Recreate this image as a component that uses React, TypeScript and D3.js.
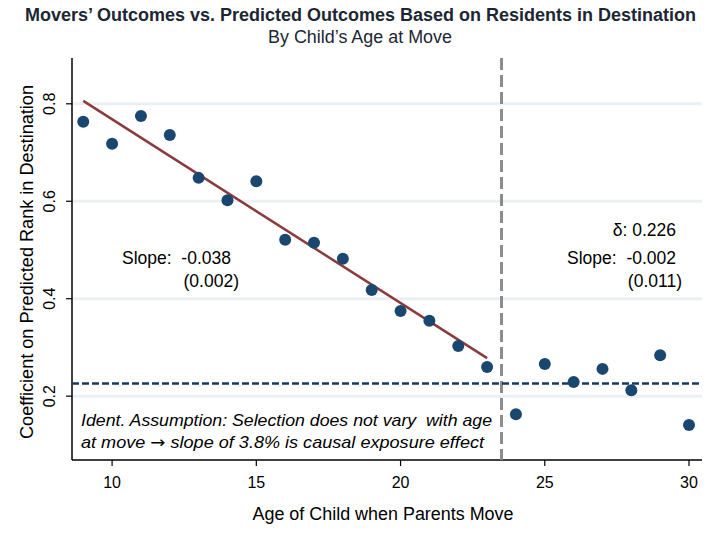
import React from 'react';
import * as d3 from 'd3';

const ages = [9, 10, 11, 12, 13, 14, 15, 16, 17, 18, 19, 20, 21, 22, 23, 24, 25, 26, 27, 28, 29, 30];
const coefs = [0.763, 0.718, 0.775, 0.736, 0.648, 0.602, 0.641, 0.521, 0.515, 0.482, 0.418, 0.375, 0.355, 0.303, 0.26, 0.163, 0.266, 0.229, 0.256, 0.212, 0.284, 0.141];
const fitEnds = [
  { age: 9, value: 0.806 },
  { age: 23, value: 0.278 },
];
const delta = 0.226;
const cutoff = 23.5;
const xTicks = [10, 15, 20, 25, 30];
const yTicks = [0.2, 0.4, 0.6, 0.8];

const W = 720;
const H = 540;
const margin = { top: 58, right: 18, bottom: 80, left: 72 };
const font = '"Liberation Sans", Arial, sans-serif';
const nb = '\u00a0';

const App = () => {
  const x = d3.scaleLinear().domain([8.61, 30.45]).range([margin.left, W - margin.right]);
  const y = d3.scaleLinear().domain([0.069, 0.894]).range([H - margin.bottom, margin.top]);
  const line = d3
    .line<{ age: number; value: number }>()
    .x((d) => x(d.age))
    .y((d) => y(d.value));

  const bottom = H - margin.bottom;

  return (
    <svg width={W} height={H} style={{ position: 'absolute', left: 0, top: 0, background: '#fff' }} fontFamily={font}>
      {/* grid */}
      {yTicks.map((t) => (
        <line key={'g' + t} x1={margin.left} x2={W - margin.right} y1={y(t)} y2={y(t)} stroke="#eaf0f3" strokeWidth={3} />
      ))}

      {/* titles */}
      <text x={360.5} y={21} textAnchor="middle" fontSize={17.5} fontWeight="bold" fill="#1c2733" textLength={671} lengthAdjust="spacingAndGlyphs">
        Movers’ Outcomes vs. Predicted Outcomes Based on Residents in Destination
      </text>
      <text x={360} y={43} textAnchor="middle" fontSize={17.5} fill="#1c2733" textLength={184} lengthAdjust="spacingAndGlyphs">
        By Child’s Age at Move
      </text>

      {/* axes */}
      <line x1={margin.left} x2={margin.left} y1={margin.top} y2={bottom} stroke="#000" strokeWidth={1.5} />
      <line x1={margin.left} x2={W - margin.right} y1={bottom} y2={bottom} stroke="#000" strokeWidth={1.5} />
      {yTicks.map((t) => (
        <g key={'y' + t}>
          <line x1={margin.left - 6} x2={margin.left} y1={y(t)} y2={y(t)} stroke="#000" strokeWidth={1.2} />
          <text transform={`translate(55,${y(t)}) rotate(-90)`} textAnchor="middle" fontSize={16} fill="#000">
            {t.toFixed(1)}
          </text>
        </g>
      ))}
      {xTicks.map((t) => (
        <g key={'x' + t}>
          <line x1={x(t)} x2={x(t)} y1={bottom} y2={bottom + 6} stroke="#000" strokeWidth={1.2} />
          <text x={x(t)} y={bottom + 28} textAnchor="middle" fontSize={16} fill="#000">
            {t}
          </text>
        </g>
      ))}
      <text x={383} y={520} textAnchor="middle" fontSize={17.5} fill="#000" textLength={261} lengthAdjust="spacingAndGlyphs">
        Age of Child when Parents Move
      </text>
      <text transform={`translate(33,262) rotate(-90)`} textAnchor="middle" fontSize={18} fill="#000" textLength={354} lengthAdjust="spacingAndGlyphs">
        Coefficient on Predicted Rank in Destination
      </text>

      {/* reference lines */}
      <line x1={x(cutoff)} x2={x(cutoff)} y1={margin.top} y2={bottom} stroke="#8c8c8c" strokeWidth={3} strokeDasharray="12 5" />
      <line x1={margin.left} x2={W - margin.right} y1={y(delta)} y2={y(delta)} stroke="#1a3a5c" strokeWidth={2.5} strokeDasharray="7 3" />

      {/* fit */}
      <path d={line(fitEnds) ?? ''} stroke="#8b3a3e" strokeWidth={2.5} fill="none" />

      {/* points */}
      {ages.map((a, i) => (
        <circle key={a} cx={x(a)} cy={y(coefs[i])} r={6} fill="#1a476f" />
      ))}

      {/* annotations */}
      <g fontSize={17.5} fill="#000">
        <text x={122} y={264}>{`Slope:${nb} -0.038`}</text>
        <text x={239} y={287} textAnchor="end">
          (0.002)
        </text>
        <text x={676} y={236} textAnchor="end">
          δ: 0.226
        </text>
        <text x={676} y={264} textAnchor="end">{`Slope:${nb} -0.002`}</text>
        <text x={682} y={287} textAnchor="end">
          (0.011)
        </text>
      </g>
      <text x={81} y={426} fontSize={16.5} fontStyle="italic" fill="#000" textLength={411} lengthAdjust="spacingAndGlyphs">
        {`Ident. Assumption: Selection does not vary${nb} with age`}
      </text>
      <text x={81} y={448} fontSize={16.5} fontStyle="italic" fill="#000" textLength={403} lengthAdjust="spacingAndGlyphs">
        at move <tspan fontFamily='"DejaVu Sans"' fontStyle="normal">→</tspan> slope of 3.8% is causal exposure effect
      </text>
    </svg>
  );
};

export default App;
